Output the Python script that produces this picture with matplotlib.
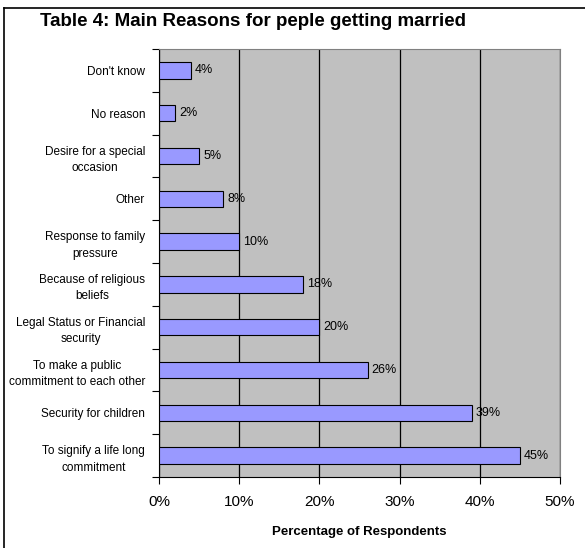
import matplotlib.pyplot as plt
from matplotlib.lines import Line2D

plt.rcParams['font.family'] = ['Liberation Sans', 'DejaVu Sans']

# categories from bottom to top
reasons = ['To signify a life long\ncommitment',
           'Security for children',
           'To make a public\ncommitment to each other',
           'Legal Status or Financial\nsecurity',
           'Because of religious\nbeliefs',
           'Response to family\npressure',
           'Other',
           'Desire for a special\noccasion',
           'No reason',
           "Don't know"]
percent = [45, 39, 26, 20, 18, 10, 8, 5, 2, 4]
xticks = [0, 10, 20, 30, 40, 50]

fig = plt.figure(figsize=(5.85, 5.48), dpi=100)
ax = fig.add_axes([159/585, 1-477/548, 401/585, 428/548])
ax.set_facecolor('#c0c0c0')

pos = list(range(len(reasons)))
ax.barh(pos, percent, height=0.38, color='#9999ff', edgecolor='black', linewidth=0.8, zorder=3)
for p, v in zip(pos, percent):
    ax.text(v + 0.5, p, '%d%%' % v, va='center', ha='left', fontsize=9, zorder=4)

ax.set_xlim(0, 50)
ax.set_ylim(-0.5, len(reasons) - 0.5)
ax.set_xticks(xticks)
ax.set_xticklabels(['%d%%' % t for t in xticks], fontsize=11)
ax.xaxis.grid(True, color='black', linewidth=0.9, zorder=1)
ax.set_axisbelow(True)

ax.set_yticks(pos)
ax.set_yticklabels(reasons, fontsize=8.5, ha='right', multialignment='center', linespacing=1.5)
ax.tick_params(axis='y', length=0, pad=10)
ax.set_yticks([p - 0.5 for p in pos] + [len(reasons) - 0.5], minor=True)
ax.tick_params(axis='y', which='minor', length=5, width=0.8)
ax.tick_params(axis='x', length=5, width=0.8, pad=8)

for s in ['top', 'right']:
    ax.spines[s].set_color('#808080')
for s in ['bottom', 'left']:
    ax.spines[s].set_color('black')

ax.set_xlabel('Percentage of Respondents', fontsize=9.5, fontweight='bold', labelpad=12)

fig.text(40/585, 1-22/548, 'Table 4: Main Reasons for peple getting married',
         fontsize=13.5, fontweight='bold', va='center', ha='left')

# chart frame (only top and left visible)
fig.add_artist(Line2D([4/585, 4/585], [0, 1-8/548], color='black', linewidth=1.2, transform=fig.transFigure))
fig.add_artist(Line2D([4/585, 1], [1-8/548, 1-8/548], color='black', linewidth=1.2, transform=fig.transFigure))

plt.savefig('out.png')
